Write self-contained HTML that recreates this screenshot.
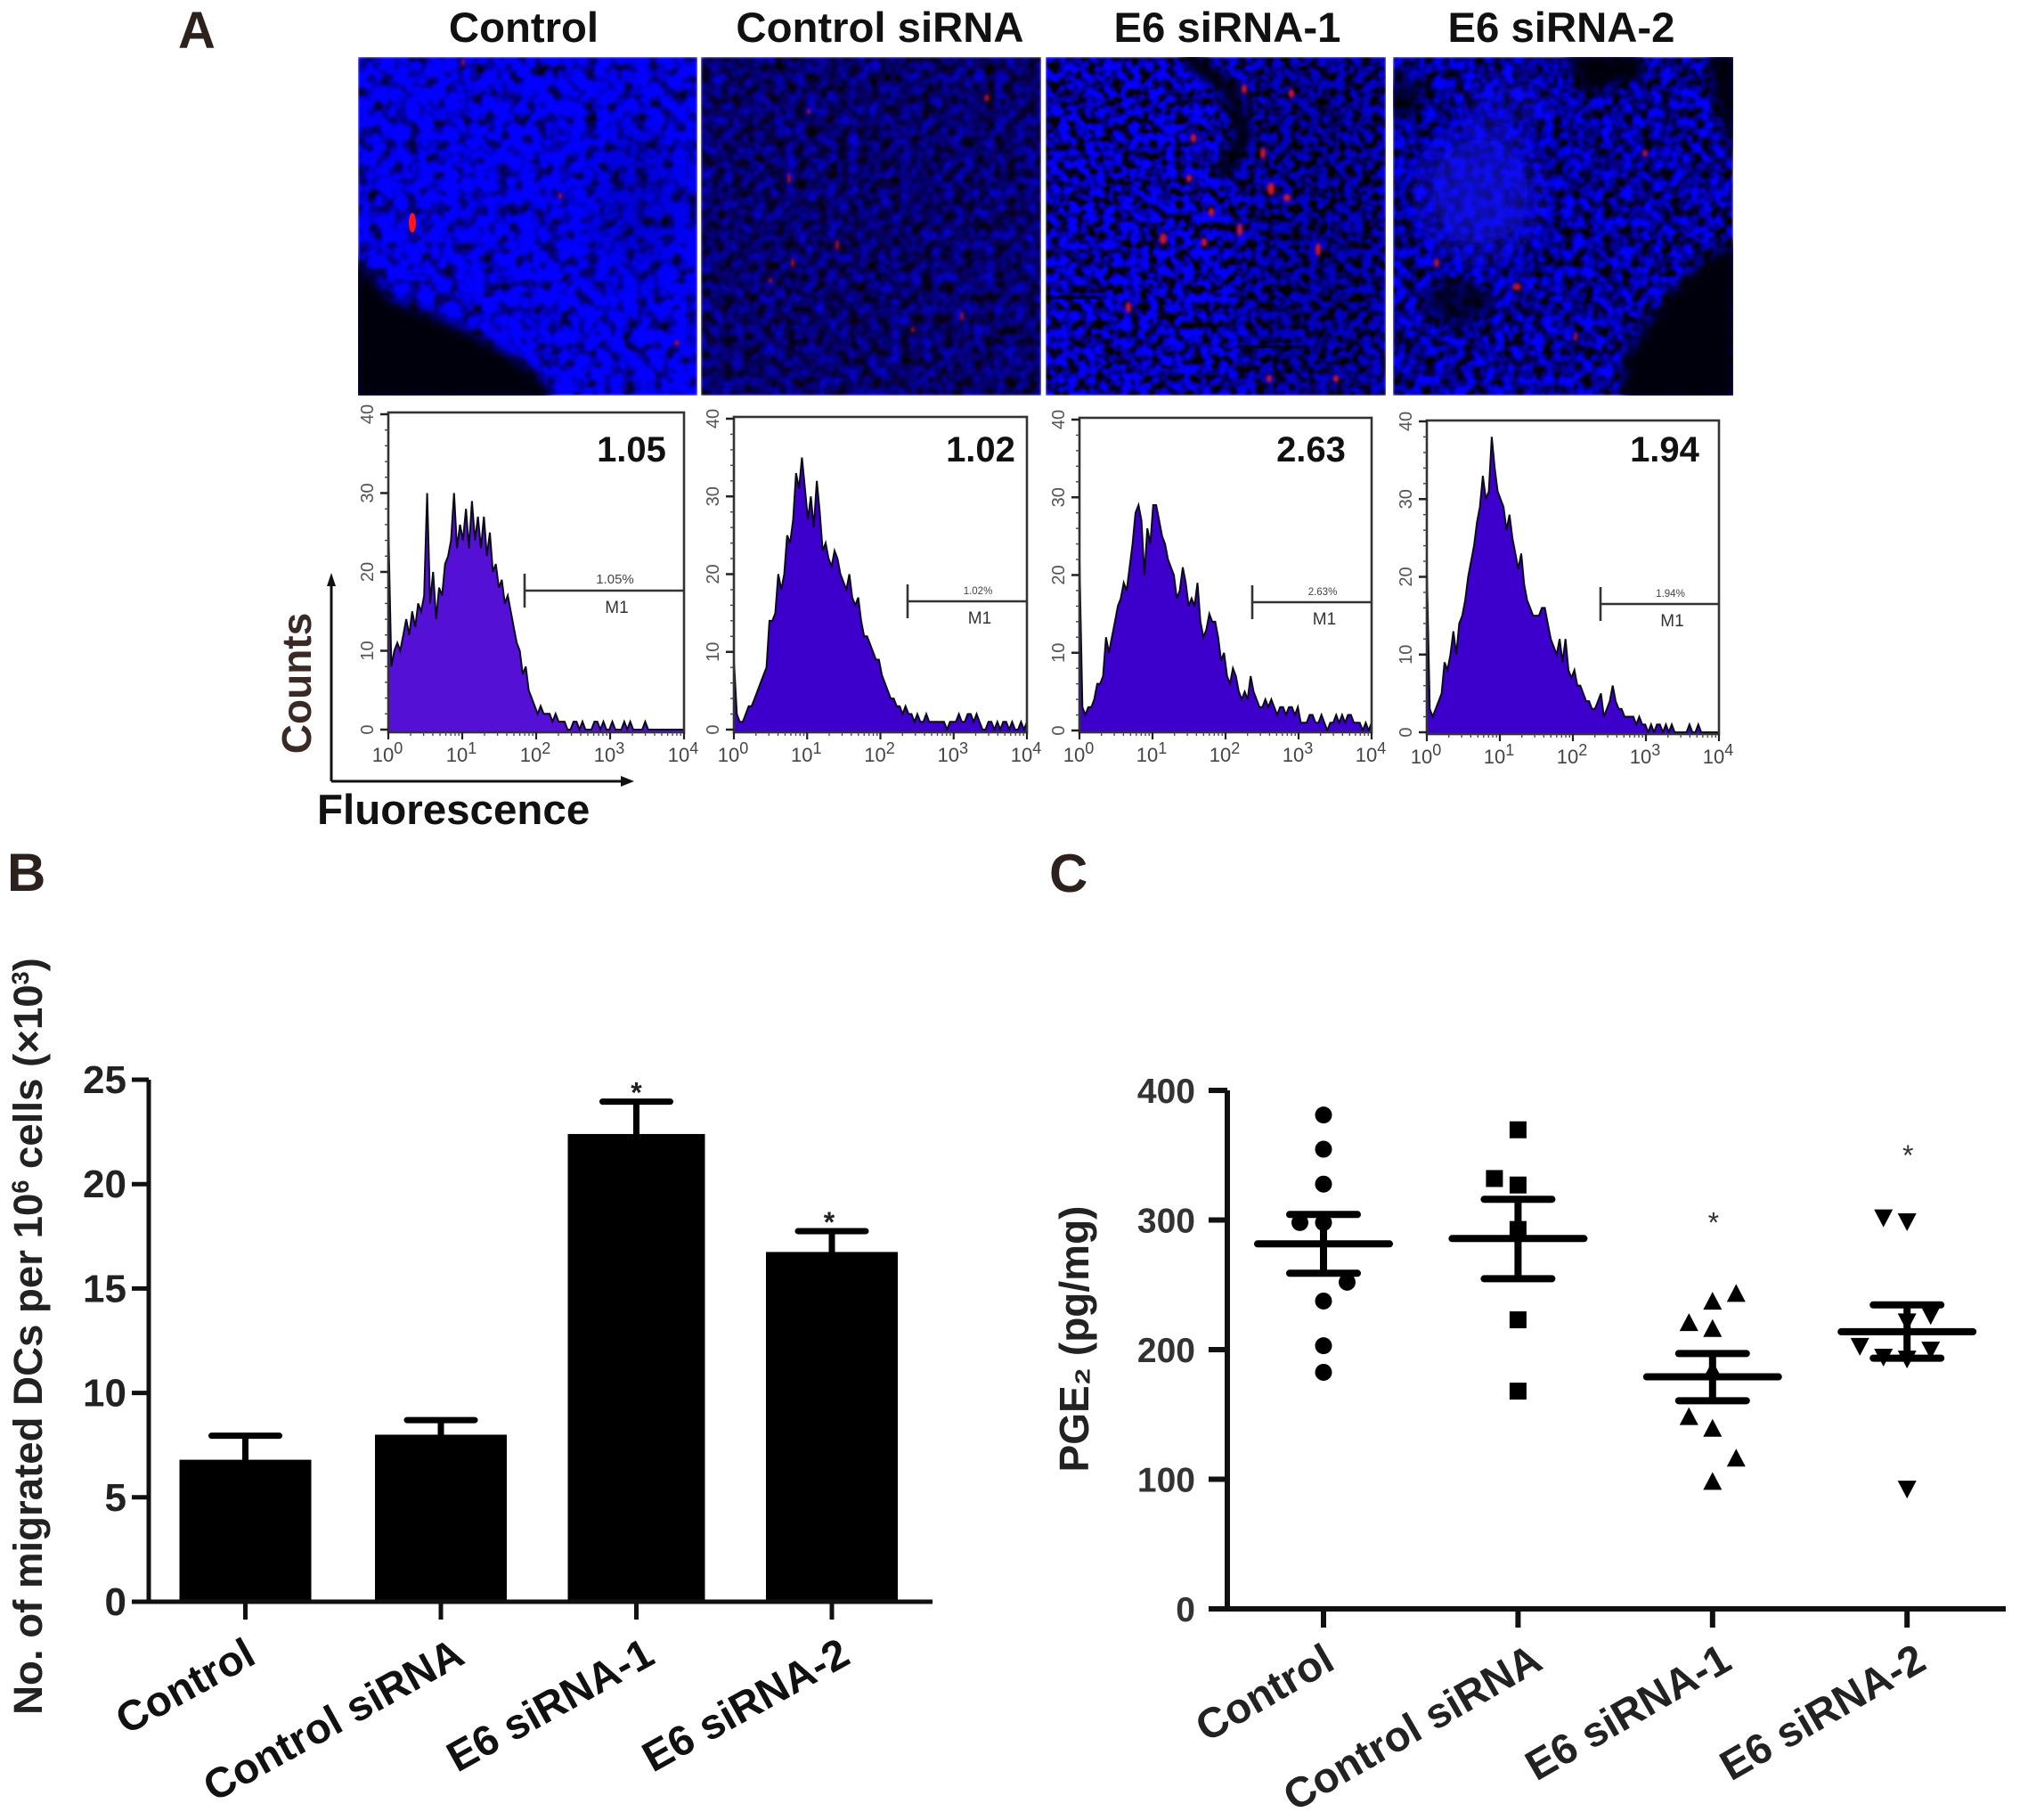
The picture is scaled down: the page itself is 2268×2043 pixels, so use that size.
<!DOCTYPE html>
<html lang="en">
<head>
<meta charset="utf-8">
<title>E6 siRNA dendritic cell figure</title>
<style>
html,body{margin:0;padding:0;background:#fff}
svg{display:block}
text{font-family:"Liberation Sans",sans-serif}
</style>
</head>
<body>
<svg id="fig" xmlns="http://www.w3.org/2000/svg" width="2268" height="2043" viewBox="0 0 2268 2043">
<defs>
<filter id="cells1" x="0" y="0" width="100%" height="100%" color-interpolation-filters="sRGB"><feTurbulence type="fractalNoise" baseFrequency="0.07" numOctaves="2" seed="4"/><feColorMatrix values="0 0 0 0 0.01 0 0 0 0 0 2.3 0 0 0 -0.27 0 0 0 0 1"/><feGaussianBlur stdDeviation="1.4"/></filter>
<filter id="cells2" x="0" y="0" width="100%" height="100%" color-interpolation-filters="sRGB"><feTurbulence type="fractalNoise" baseFrequency="0.085" numOctaves="2" seed="9"/><feColorMatrix values="0 0 0 0 0.02 0 0 0 0 0 1.4 0 0 0 -0.28 0 0 0 0 1"/><feGaussianBlur stdDeviation="1.4"/></filter>
<filter id="cells3" x="0" y="0" width="100%" height="100%" color-interpolation-filters="sRGB"><feTurbulence type="fractalNoise" baseFrequency="0.1" numOctaves="2" seed="15"/><feColorMatrix values="0 0 0 0 0.02 0 0 0 0 0 3.4 0 0 0 -1.08 0 0 0 0 1"/><feGaussianBlur stdDeviation="1.2"/></filter>
<filter id="cells4" x="0" y="0" width="100%" height="100%" color-interpolation-filters="sRGB"><feTurbulence type="fractalNoise" baseFrequency="0.09" numOctaves="2" seed="22"/><feColorMatrix values="0 0 0 0 0.01 0 0 0 0 0 2.5 0 0 0 -0.68 0 0 0 0 1"/><feGaussianBlur stdDeviation="1.4"/></filter>
<filter id="blur2" x="-50%" y="-50%" width="200%" height="200%"><feGaussianBlur stdDeviation="1.6"/></filter>
<filter id="blur6" x="-30%" y="-30%" width="160%" height="160%"><feGaussianBlur stdDeviation="6"/></filter>
<filter id="blur18" x="-50%" y="-50%" width="200%" height="200%"><feGaussianBlur stdDeviation="18"/></filter>
</defs>

<rect x="0" y="0" width="2268" height="2043" fill="#fff"/>

<g font-weight="700" font-size="60" fill="#2c211c">
<text x="200" y="54" font-size="58">A</text>
<text x="8" y="1000">B</text>
<text x="1178" y="1001">C</text>
</g>

<g font-weight="700" font-size="47.3" fill="#111" text-anchor="middle">
<text x="588" y="47">Control</text>
<text x="988" y="47">Control siRNA</text>
<text x="1378" y="47">E6 siRNA-1</text>
<text x="1753" y="47">E6 siRNA-2</text>
</g>

<svg x="402" y="64" width="381" height="380" viewBox="402 64 381 380">
<rect x="402" y="64" width="381" height="380" filter="url(#cells1)"/>
<polygon points="395,283 441,337 490,355 537,377 590,410 614,430 620,450 395,450" fill="#06000c" filter="url(#blur6)"/>
<ellipse cx="715" cy="220" rx="50" ry="85" fill="#000" opacity=".14" filter="url(#blur18)"/>
<g fill="#ff1616">
<ellipse cx="463" cy="250" rx="4" ry="11"/>
</g>
<g fill="#a01030" filter="url(#blur2)">
<ellipse cx="629" cy="220" rx="2" ry="4"/><ellipse cx="520" cy="70" rx="2" ry="4"/><ellipse cx="760" cy="385" rx="3" ry="3"/>
</g>
</svg>

<svg x="787" y="64" width="382" height="380" viewBox="787 64 382 380">
<rect x="787" y="64" width="382" height="380" filter="url(#cells2)"/>
<g fill="#a81030" filter="url(#blur2)">
<ellipse cx="1108" cy="110" rx="3" ry="4"/><ellipse cx="908" cy="125" rx="2" ry="3"/><ellipse cx="886" cy="200" rx="2" ry="6"/><ellipse cx="940" cy="275" rx="2" ry="6"/><ellipse cx="890" cy="295" rx="2" ry="5"/><ellipse cx="1080" cy="355" rx="2" ry="5"/><ellipse cx="865" cy="315" rx="2" ry="3"/><ellipse cx="1025" cy="370" rx="2" ry="3"/>
</g>
</svg>

<svg x="1174" y="64" width="382" height="380" viewBox="1174 64 382 380">
<rect x="1174" y="64" width="382" height="380" filter="url(#cells3)"/>
<rect x="1400" y="60" width="160" height="390" fill="#000" opacity=".22" filter="url(#blur18)"/>
<polyline points="1330,60 1381,100 1397,150 1371,197" fill="none" stroke="#02000a" stroke-width="18" filter="url(#blur6)"/>
<polyline points="1180,335 1240,332" fill="none" stroke="#02000a" stroke-width="14" filter="url(#blur6)"/>
<polyline points="1390,388 1465,390" fill="none" stroke="#02000a" stroke-width="12" filter="url(#blur6)"/>
<g fill="#d01828" filter="url(#blur2)">
<ellipse cx="1427" cy="212" rx="4" ry="7"/><ellipse cx="1445" cy="222" rx="4" ry="4"/><ellipse cx="1392" cy="258" rx="3" ry="7"/><ellipse cx="1306" cy="268" rx="4" ry="6"/><ellipse cx="1352" cy="272" rx="3" ry="5"/><ellipse cx="1360" cy="238" rx="3" ry="5"/><ellipse cx="1267" cy="345" rx="3" ry="6"/><ellipse cx="1418" cy="172" rx="3" ry="6"/><ellipse cx="1397" cy="100" rx="3" ry="5"/><ellipse cx="1450" cy="105" rx="3" ry="5"/><ellipse cx="1340" cy="155" rx="3" ry="5"/><ellipse cx="1335" cy="200" rx="3" ry="4"/><ellipse cx="1480" cy="280" rx="3" ry="7"/><ellipse cx="1425" cy="425" rx="3" ry="4"/><ellipse cx="1500" cy="425" rx="3" ry="4"/>
</g>
</svg>

<svg x="1564" y="64" width="382" height="380" viewBox="1564 64 382 380">
<rect x="1564" y="64" width="382" height="380" filter="url(#cells4)"/>
<ellipse cx="1662" cy="215" rx="66" ry="72" fill="#1414f0" opacity=".6" filter="url(#blur18)"/>
<ellipse cx="1690" cy="120" rx="50" ry="35" fill="#1414f0" opacity=".3" filter="url(#blur18)"/>
<polygon points="1950,267 1916,290 1875,327 1825,400 1822,450 1950,450" fill="#06000a" filter="url(#blur6)"/>
<polygon points="1755,60 1840,60 1850,85 1780,105" fill="#04000a" filter="url(#blur6)"/>
<polygon points="1915,60 1950,60 1950,190 1925,110" fill="#04000a" filter="url(#blur6)"/>
<ellipse cx="1637" cy="340" rx="36" ry="24" fill="#04000a" opacity=".7" filter="url(#blur6)"/>
<ellipse cx="1578" cy="110" rx="20" ry="24" fill="#04000a" opacity=".7" filter="url(#blur6)"/>
<g fill="#b01428" filter="url(#blur2)">
<ellipse cx="1613" cy="295" rx="3" ry="5"/><ellipse cx="1703" cy="322" rx="5" ry="4"/><ellipse cx="1847" cy="172" rx="3" ry="4"/><ellipse cx="1769" cy="378" rx="2" ry="5"/>
</g>
</svg>

<g>
<path d="M372 877V650M372 877H700" fill="none" stroke="#111" stroke-width="3"/>
<polygon points="372,643 367,658 377,658" fill="#111"/>
<polygon points="712,877 697,871 697,883" fill="#111"/>
<text transform="translate(349 767) rotate(-90)" text-anchor="middle" font-size="46" font-weight="700" fill="#3a2a25">Counts</text>
<text x="356" y="925" font-size="47.5" font-weight="700" fill="#111">Fluorescence</text>
</g>

<g id="hists"></g>
<g id="barchart"></g>
<g id="dotchart"></g>
</svg>

<script>
const categories = ['Control', 'Control siRNA', 'E6 siRNA-1', 'E6 siRNA-2'];

const histControl = [26,8,10,11,10,12,14,12,15,13,16,15,17,30,16,20,14,18,17,21,22,24,30,23,26,24,28,23,29,24,27,23,27,22,25,20,21,18,19,16,17,15,13,11,10,7,8,5,4,3,2,3,2,2,2,1,2,1,1,1,0,0,1,1,0,1,0,0,0,1,1,0,1,0,0,1,0,0,0,1,0,1,0,0,0,0,1,0,0,0,0,0,0,0,0,0,0,0,0,0];
const histControlSirna = [9,2,1,1,2,3,3,4,5,6,7,8,14,14,15,20,18,20,25,24,27,33,31,35,31,27,30,26,32,28,23,24,22,21,23,22,20,19,18,20,17,16,17,14,12,12,11,10,9,9,7,6,5,4,4,3,3,2,3,2,2,1,2,1,1,2,1,1,1,1,1,1,0,1,1,1,2,1,1,2,2,1,2,1,0,0,1,1,0,1,0,1,1,0,1,0,0,1,0,1];
const histE6One = [22,3,2,3,3,4,6,6,7,12,10,12,14,16,17,19,18,21,24,28,29,27,20,26,24,29,29,27,25,24,22,21,20,17,18,21,19,16,17,16,19,14,12,13,15,14,14,12,9,10,7,6,8,7,5,4,5,4,7,5,4,3,3,4,3,4,3,2,3,3,2,3,3,2,3,1,1,1,2,2,1,1,2,1,0,1,1,2,1,2,1,2,2,1,1,1,0,1,0,1];
const histE6Two = [21,3,2,3,4,5,9,8,10,13,10,14,15,17,20,22,24,27,29,33,30,31,38,34,31,30,29,26,28,25,23,21,23,19,17,16,15,15,15,16,16,14,12,11,10,12,9,12,8,7,8,6,6,5,4,4,3,3,4,5,2,3,4,6,4,3,3,2,2,2,2,1,2,1,1,0,1,0,1,1,0,1,0,1,0,0,0,0,0,1,0,0,1,0,0,0,0,0,0,0];
const histYTicks = [0, 10, 20, 30, 40];
const histXExponents = [0, 1, 2, 3, 4];
const gatePercents = ['1.05%', '1.02%', '2.63%', '1.94%'];
const gateValues = ['1.05', '1.02', '2.63', '1.94'];

const barMeans = [6.8, 8.0, 22.4, 16.75];
const barErrors = [1.15, 0.7, 1.55, 1.0];
const barStars = [false, false, true, true];
const barTicks = [0, 5, 10, 15, 20, 25];

const pgeTicks = [0, 100, 200, 300, 400];
const pgeControl = [381, 354.6, 327.7, 298, 298, 252, 237.5, 203, 182.5];
const pgeControlSlots = [0, 0, 0, -1, 0, 1, 0, 0, 0];
const pgeSirna = [369.6, 332, 327, 292.7, 223, 168];
const pgeSirnaSlots = [0, -1, 0, 0, 0, 0];
const pgeE6One = [243, 237, 220.5, 216, 184, 148, 139, 116, 98];
const pgeE6OneSlots = [1, 0, -1, 0, 0, -1, 0, 1, 0];
const pgeE6Two = [302, 299, 226.6, 221.7, 202.8, 194.5, 200, 193, 92.7];
const pgeE6TwoSlots = [-1, 0, 1, 0, -2, -1, 1, 0, 0];
const pgeMeans = [281.6, 285.7, 179, 213.8];
const pgeUpper = [304.3, 316, 197, 234.5];
const pgeLower = [258.9, 254.7, 160.6, 193.4];
const pgeStars = [null, null, 302, 354];

const NS = 'http://www.w3.org/2000/svg';
function mk(parent, tag, attrs, content) {
  const el = document.createElementNS(NS, tag);
  for (const k in attrs) el.setAttribute(k, attrs[k]);
  if (content !== undefined) el.textContent = content;
  parent.appendChild(el);
  return el;
}

function labelNudge(i) {
  if (i === 0) return -6;
  if (i === 1) return 9;
  return 3;
}

/* ---------- Panel A histograms ---------- */
const histLayouts = [
  {values: histControl, left: 436, right: 768, top: 463, bottom: 822, y0: 819, y40: 465, gateX: 589, gateY: 663, fill: '#5510d6', numX: 710},
  {values: histControlSirna, left: 824, right: 1153, top: 468, bottom: 822, y0: 819, y40: 470, gateX: 1019, gateY: 675, fill: '#3d00cc', numX: 1102},
  {values: histE6One, left: 1212, right: 1540, top: 469, bottom: 822, y0: 820, y40: 471, gateX: 1406, gateY: 676, fill: '#3d00cc', numX: 1473},
  {values: histE6Two, left: 1602, right: 1930, top: 472, bottom: 824, y0: 822, y40: 473, gateX: 1797, gateY: 678, fill: '#3d00cc', numX: 1870}
];

function drawHistogram(layout, idx) {
  const root = document.getElementById('hists');
  const g = mk(root, 'g', {});
  
  
  const xScale = d => layout.left + (d / 4) * (layout.right - layout.left);
  const yScale = v => layout.y0 - (v / 40) * (layout.y0 - layout.y40);
  const n = layout.values.length;
  const pts = layout.values.map((v, i) => xScale(i / (n - 1) * 4).toFixed(1) + ',' + yScale(v).toFixed(1));

  const area = mk(g, 'polygon', {points: xScale(0) + ',' + layout.bottom + ' ' + pts.join(' ') + ' ' + xScale(4) + ',' + layout.bottom, fill: layout.fill});
  
  
  const line = mk(g, 'polyline', {points: pts.join(' '), fill: 'none', stroke: '#0a0a1a', 'stroke-width': 2});
  
  

  const box = mk(g, 'rect', {x: layout.left, y: layout.top, width: layout.right - layout.left, height: layout.bottom - layout.top, fill: 'none', stroke: '#333', 'stroke-width': 2.6});
  
  

  histYTicks.forEach(t => {
    const tick = mk(g, 'line', {x1: layout.left - 9, x2: layout.left, y1: yScale(t), y2: yScale(t), stroke: '#222', 'stroke-width': 2.5});
    
    
    const label = mk(g, 'text', {transform: 'translate(' + (layout.left - 17) + ' ' + yScale(t) + ') rotate(-90)', 'text-anchor': 'middle', 'font-size': 20, fill: '#555'}, String(t));
    
    
  });
  for (let t = 0; t < 40; t += 2) {
    if (t % 10 === 0) continue;
    const minor = mk(g, 'line', {x1: layout.left - 4, x2: layout.left, y1: yScale(t), y2: yScale(t), stroke: '#444', 'stroke-width': 1.4});
    
    
  }
  histXExponents.forEach(e => {
    const tick = mk(g, 'line', {x1: xScale(e), x2: xScale(e), y1: layout.bottom, y2: layout.bottom + 8, stroke: '#222', 'stroke-width': 2.2});
    
    
    const label = mk(g, 'text', {x: xScale(e) - 1, y: layout.bottom + 33, 'text-anchor': 'middle', 'font-size': 22, fill: '#444'});
    
    
    mk(label, 'tspan', {}, '10');
    mk(label, 'tspan', {dy: -9, 'font-size': 18}, String(e));
    if (e < 4) {
      [2, 3, 4, 5, 6, 7, 8, 9].forEach(m => {
        const mx = xScale(e + Math.log10(m));
        const minor = mk(g, 'line', {x1: mx, x2: mx, y1: layout.bottom, y2: layout.bottom + 4, stroke: '#444', 'stroke-width': 1.3});
        
        
      });
    }
  });

  const gate = mk(g, 'path', {d: 'M' + layout.gateX + ' ' + (layout.gateY - 19) + 'V' + (layout.gateY + 19) + 'M' + layout.gateX + ' ' + layout.gateY + 'H' + layout.right, fill: 'none', stroke: '#333', 'stroke-width': 2.6});
  
  
  const pct = mk(g, 'text', {x: (layout.gateX + layout.right) / 2 + 12, y: layout.gateY - 8, 'text-anchor': 'middle', 'font-family': 'Liberation Serif', 'font-size': idx === 0 ? 15 : 11.5, fill: '#444'}, gatePercents[idx]);
  
  
  const m1 = mk(g, 'text', {x: (layout.gateX + layout.right) / 2 + 14, y: layout.gateY + 25, 'text-anchor': 'middle', 'font-size': 19, fill: '#333'}, 'M1');
  
  
  const num = mk(g, 'text', {x: layout.numX - 1, y: 518, 'text-anchor': 'middle', 'font-size': 40, 'font-weight': 700, fill: '#111'}, gateValues[idx]);
  
  
}
histLayouts.forEach(drawHistogram);

/* ---------- Panel B bars ---------- */
(function () {
  const g = document.getElementById('barchart');
  const y = v => 1798 - v * (1798 - 1212) / 25;
  const x = i => 275.5 + i * 219.5;
  const barWidth = i => (i === 2 ? 154 : 148);

  barMeans.forEach((v, i) => {
    const bar = mk(g, 'rect', {x: x(i) - barWidth(i) / 2, y: y(v), width: barWidth(i), height: y(0) - y(v), fill: '#000'});
    
    
    const err = mk(g, 'path', {d: 'M' + x(i) + ' ' + y(v) + 'V' + y(v + barErrors[i]) + 'M' + (x(i) - 38) + ' ' + y(v + barErrors[i]) + 'H' + (x(i) + 38), fill: 'none', stroke: '#000', 'stroke-width': 7, 'stroke-linecap': 'round'});
    
    
    if (barStars[i]) {
      const star = mk(g, 'text', {x: x(i) - (i === 3 ? 3 : 0), y: y(v + barErrors[i]) + 1, 'text-anchor': 'middle', 'font-size': 32, 'font-weight': 700, fill: '#222'}, '*');
      
      
    }
    const tick = mk(g, 'line', {x1: x(i), x2: x(i), y1: y(0), y2: y(0) + 20, stroke: '#111', 'stroke-width': 5});
    
    
    const lab = mk(g, 'text', {transform: 'translate(' + (x(i) + 20 + labelNudge(i)) + ' ' + (y(0) + 68) + ') rotate(-29)', 'text-anchor': 'end', 'font-size': 47.5, 'font-weight': 700, fill: '#111'}, categories[i]);
    
    
  });

  const axes = mk(g, 'path', {d: 'M167 ' + y(25) + 'V' + y(0) + 'M148 ' + y(0) + 'H1047', fill: 'none', stroke: '#111', 'stroke-width': 5});
  
  
  barTicks.forEach(t => {
    const tick = mk(g, 'line', {x1: 148, x2: 167, y1: y(t), y2: y(t), stroke: '#111', 'stroke-width': 5});
    
    
    const lab = mk(g, 'text', {x: 158, y: y(t) + 15, 'text-anchor': 'end', 'font-size': 44, 'font-weight': 700, fill: '#222', transform: 'translate(-16 0)'}, String(t));
    
    
  });
  const title = mk(g, 'text', {transform: 'translate(47 1500) rotate(-90)', 'text-anchor': 'middle', 'font-size': 45.6, 'font-weight': 700, fill: '#222'});
  
  
  mk(title, 'tspan', {}, 'No. of migrated DCs per 10');
  mk(title, 'tspan', {dy: -15, 'font-size': 27}, '6');
  mk(title, 'tspan', {dy: 15}, ' cells (×10');
  mk(title, 'tspan', {dy: -15, 'font-size': 27}, '3');
  mk(title, 'tspan', {dy: 15}, ')');
})();

/* ---------- Panel C scatter ---------- */
(function () {
  const g = document.getElementById('dotchart');
  const y = v => 1806 - v * (1806 - 1224) / 400;
  const x = i => 1486 + i * 218.4;
  const slotW = 26.5;
  const groups = [pgeControl, pgeSirna, pgeE6One, pgeE6Two];
  const slots = [pgeControlSlots, pgeSirnaSlots, pgeE6OneSlots, pgeE6TwoSlots];

  function marker(i, px, py) {
    if (i === 0) return mk(g, 'circle', {cx: px, cy: py, r: 9.5, fill: '#000'});
    if (i === 1) return mk(g, 'rect', {x: px - 9.5, y: py - 9.5, width: 19, height: 19, fill: '#000'});
    if (i === 2) return mk(g, 'polygon', {points: px + ',' + (py - 11) + ' ' + (px - 10.5) + ',' + (py + 9) + ' ' + (px + 10.5) + ',' + (py + 9), fill: '#000'});
    return mk(g, 'polygon', {points: px + ',' + (py + 11) + ' ' + (px - 10.5) + ',' + (py - 9) + ' ' + (px + 10.5) + ',' + (py - 9), fill: '#000'});
  }

  groups.forEach((vals, i) => {
    vals.forEach((v, j) => {
      const m = marker(i, x(i) + slots[i][j] * slotW, y(v));
      
      
    });
    const mean = mk(g, 'line', {x1: x(i) - 74, x2: x(i) + 74, y1: y(pgeMeans[i]), y2: y(pgeMeans[i]), stroke: '#000', 'stroke-width': 8, 'stroke-linecap': 'round'});
    
    
    const err = mk(g, 'path', {d: 'M' + x(i) + ' ' + y(pgeUpper[i]) + 'V' + y(pgeLower[i]) + 'M' + (x(i) - 38) + ' ' + y(pgeUpper[i]) + 'H' + (x(i) + 38) + 'M' + (x(i) - 38) + ' ' + y(pgeLower[i]) + 'H' + (x(i) + 38), fill: 'none', stroke: '#000', 'stroke-width': 8, 'stroke-linecap': 'round'});
    
    
    if (pgeStars[i] !== null) {
      const star = mk(g, 'text', {x: x(i) + 1, y: y(pgeStars[i]) + 17, 'text-anchor': 'middle', 'font-size': 32, 'font-weight': 400, fill: '#333'}, '*');
      
      
    }
    const tick = mk(g, 'line', {x1: x(i), x2: x(i), y1: y(0), y2: y(0) + 21, stroke: '#111', 'stroke-width': 6});
    
    
    const lab = mk(g, 'text', {transform: 'translate(' + (x(i) + 21 + labelNudge(i)) + ' ' + (y(0) + 66) + ') rotate(-30)', 'text-anchor': 'end', 'font-size': 47.5, 'font-weight': 700, fill: '#222'}, categories[i]);
    
    
  });

  const axes = mk(g, 'path', {d: 'M1378 ' + y(400) + 'V' + y(0) + 'M1357 ' + y(0) + 'H2252', fill: 'none', stroke: '#111', 'stroke-width': 6});
  
  
  pgeTicks.forEach(t => {
    const tick = mk(g, 'line', {x1: 1357, x2: 1378, y1: y(t), y2: y(t), stroke: '#111', 'stroke-width': 6});
    
    
    const lab = mk(g, 'text', {x: 1342, y: y(t) + 14, 'text-anchor': 'end', 'font-size': 39, 'font-weight': 700, fill: '#333'}, String(t));
    
    
  });
  const title = mk(g, 'text', {transform: 'translate(1222 1503) rotate(-90)', 'text-anchor': 'middle', 'font-size': 46, 'font-weight': 700, fill: '#222'}, 'PGE₂ (pg/mg)');
  
  
})();
</script>
</body>
</html>
